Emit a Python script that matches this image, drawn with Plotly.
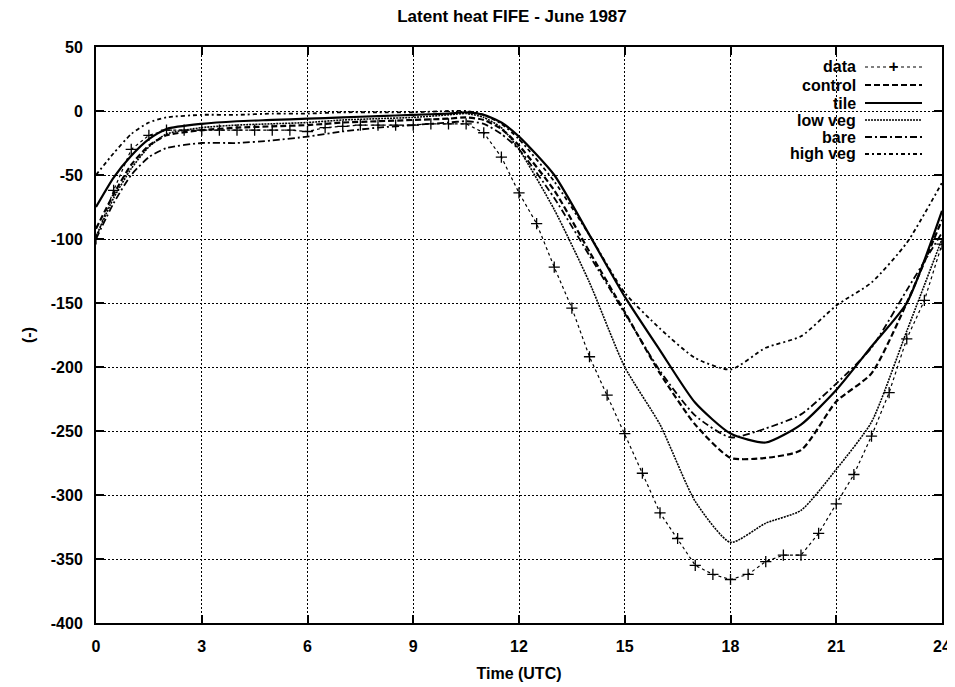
import plotly.graph_objects as go

# ---- data ----
data_hours = [0, 0.5, 1, 1.5, 2, 2.5, 3, 3.5, 4, 4.5, 5, 5.5, 6, 6.5, 7, 7.5, 8, 8.5,
              9, 9.5, 10, 10.5, 11, 11.5, 12, 12.5, 13, 13.5, 14, 14.5, 15, 15.5, 16,
              16.5, 17, 17.5, 18, 18.5, 19, 19.5, 20, 20.5, 21, 21.5, 22, 22.5, 23, 23.5, 24]
data_obs = [-100, -62, -30, -19, -15, -15, -15, -15, -15, -15, -15, -15, -16, -13, -12, -11,
            -11, -11, -11, -10, -10, -10, -17, -36, -64, -88, -122, -154, -192, -222, -252,
            -283, -314, -334, -355, -362, -366, -362, -352, -347, -347, -330, -307, -284,
            -254, -220, -178, -148, -104]

model_hours = [0, 0.5, 1, 1.5, 2, 3, 4, 5, 6, 7, 8, 9, 10, 10.5, 11, 11.5, 12, 13, 14, 15,
               16, 17, 18, 19, 20, 21, 22, 23, 24]
control = [-92, -65, -42, -27, -19, -15, -13, -12, -11, -9, -8, -7, -6, -5, -7, -14, -27,
           -62, -110, -157, -205, -245, -271, -271, -265, -227, -205, -150, -85]
tile = [-75, -52, -35, -22, -14, -10, -8, -7, -6, -5, -4, -3, -2, -1, -3, -9, -20, -50,
        -97, -145, -187, -228, -252, -259, -245, -218, -184, -150, -78]
low_veg = [-98, -68, -45, -28, -18, -13, -11, -10, -9, -7, -6, -5, -3, -2, -5, -13, -30,
           -77, -134, -200, -245, -305, -337, -322, -312, -280, -243, -172, -100]
bare = [-100, -72, -50, -36, -29, -25, -25, -23, -20, -16, -13, -11, -9, -8, -10, -18, -30,
        -68, -113, -158, -203, -238, -255, -248, -237, -213, -185, -140, -95]
high_veg = [-50, -33, -18, -9, -5, -3, -3, -2, -2, -1, -1, -1, 0, 0, -3, -10, -22, -55,
            -97, -142, -170, -193, -202, -185, -176, -152, -134, -103, -56]

x_ticks = [0, 3, 6, 9, 12, 15, 18, 21, 24]
y_ticks = [50, 0, -50, -100, -150, -200, -250, -300, -350, -400]

series = [
    ("data", data_hours, data_obs, dict(color="black", width=1.2, dash="3px,3px"), True),
    ("control", model_hours, control, dict(color="black", width=2.2, dash="6px,3px"), False),
    ("tile", model_hours, tile, dict(color="black", width=2.2), False),
    ("low veg", model_hours, low_veg, dict(color="black", width=1.6, dash="2px,1px"), False),
    ("bare", model_hours, bare, dict(color="black", width=1.8, dash="7px,3px,2px,3px"), False),
    ("high veg", model_hours, high_veg, dict(color="black", width=1.8, dash="4px,3px,2px,3px"), False),
]

FONT = "Liberation Sans, Arial, Helvetica, sans-serif"
FS = 16
OFF = 8  # page body margin offset

fig = go.Figure()
for name, xs, ys, line, markers in series:
    ln = dict(line)
    if not markers:
        ln.update(shape="spline", smoothing=0.6)
    fig.add_trace(go.Scatter(
        x=xs, y=ys, name=name, mode="lines+markers" if markers else "lines",
        line=ln,
        marker=dict(symbol="cross-thin", size=8, line=dict(color="black", width=1.3)) if markers else None,
        showlegend=False, hoverinfo="x+y+name",
    ))

# target plot area in page pixels
L, R, T, B = 96, 942, 47, 623
W, H = 955 - OFF, 687 - OFF
def px(x):
    return (x - L) / (R - L)
def py(y):
    return (B - y) / (B - T)

shapes = [dict(type="rect", xref="paper", yref="paper", x0=px(765), x1=px(938),
               y0=py(165), y1=py(49), fillcolor="white", line=dict(width=0), layer="between")]
annotations = []
rows = [67, 85, 103, 120, 137, 154]
for (name, xs, ys, line, markers), ry in zip(series, rows):
    annotations.append(dict(xref="paper", yref="paper", x=px(858), y=py(ry), text=name,
                            showarrow=False, xanchor="right", yanchor="middle",
                            font=dict(family=FONT, size=FS, color="black", weight="bold")))
    ld = dict(color="black", width=line.get("width", 1.5), dash=line.get("dash", "solid"))
    shapes.append(dict(type="line", xref="paper", yref="paper", x0=px(865), x1=px(922),
                       y0=py(ry), y1=py(ry), line=ld, layer="above"))
    if markers:
        annotations.append(dict(xref="paper", yref="paper", x=px(893), y=py(ry), text="+",
                                showarrow=False, xanchor="center", yanchor="middle",
                                font=dict(family=FONT, size=FS, color="black")))

bold = dict(family=FONT, size=FS, color="black", weight="bold")
fig.update_layout(
    width=W, height=H,
    margin=dict(l=L - OFF, r=W - (R - OFF), t=T - OFF, b=H - (B - OFF), autoexpand=False),
    paper_bgcolor="white", plot_bgcolor="white",
    font=bold,
    title=dict(text="Latent heat FIFE - June 1987", x=(512 - OFF) / W, xanchor="center",
               y=1 - (16 - OFF) / H, yanchor="middle",
               font=dict(family=FONT, size=17, color="black", weight="bold")),
    shapes=shapes, annotations=annotations,
)
fig.update_xaxes(
    range=[0, 24], tickvals=x_ticks, ticktext=[str(v) for v in x_ticks],
    showgrid=True, gridcolor="black", griddash="2px,2px", gridwidth=1,
    showline=True, linecolor="black", linewidth=2, mirror="ticks",
    ticks="inside", ticklen=8, tickcolor="black", tickwidth=1.5,
    zeroline=False, ticklabelstandoff=8, automargin=False, tickfont=bold,
    title=dict(text="Time (UTC)", standoff=14, font=bold),
)
fig.update_yaxes(
    range=[-400, 50], tickvals=y_ticks, ticktext=[str(v) for v in y_ticks],
    showgrid=True, gridcolor="black", griddash="2px,2px", gridwidth=1,
    showline=True, linecolor="black", linewidth=2, mirror="ticks",
    ticks="inside", ticklen=8, tickcolor="black", tickwidth=1.5,
    zeroline=False, ticklabelstandoff=8, automargin=False, tickfont=bold,
    title=dict(text="(-)", standoff=12, font=bold),
)

fig.write_html("out.html")
